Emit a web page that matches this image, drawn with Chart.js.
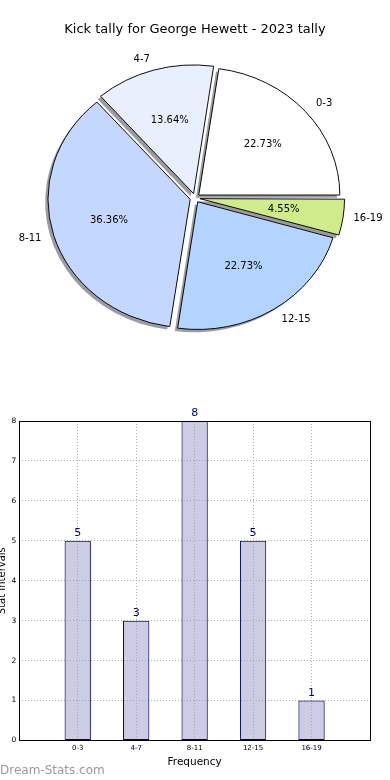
<!DOCTYPE html>
<html>
<head>
<meta charset="utf-8">
<script src="https://cdn.jsdelivr.net/npm/chart.js@4.4.1/dist/chart.umd.min.js"></script>
<style>
  body { margin: 0; width: 390px; height: 780px; overflow: hidden; background: #fff; position: relative; }
  #pieBox { position: absolute; left: 0; top: 0; width: 390px; height: 360px; }
  #barBox { position: absolute; left: -6px; top: 390px; width: 396px; height: 390px; }
  #mark { position: absolute; left: 0; top: 763px; font: 12px/14px "DejaVu Sans"; color: #999; }
</style>
</head>
<body>
<div id="pieBox"><canvas id="pieChart"></canvas></div>
<div id="barBox"><canvas id="barChart"></canvas></div>
<div id="mark">Dream-Stats.com</div>
<script>
const categories = ['0-3', '4-7', '8-11', '12-15', '16-19'];
const tally = [5, 3, 8, 5, 1];
const sliceColours = ['#ffffff', '#e9f0fd', '#c4d7fe', '#b3d4fe', '#cfeb8a'];

Chart.defaults.font.family = '"DejaVu Sans"';
Chart.defaults.color = '#000';

const total = tally.reduce((a, b) => a + b, 0);
// matplotlib goes anticlockwise from 3 o'clock, chart.js clockwise -> reverse order
const order = categories.map((c, i) => i).reverse();
const squash = 0.905; // the original pie is a bit flattened

const pieLook = {
  id: 'pieLook',
  beforeDatasetsDraw(chart) {
    const ctx = chart.ctx;
    const meta = chart.getDatasetMeta(0);
    const c = meta.data[0];
    ctx.save();
    ctx.translate(c.x, c.y);
    ctx.scale(1, squash);
    ctx.translate(-c.x, -c.y);
    // shadows
    ctx.fillStyle = 'rgba(55,55,65,0.5)';
    meta.data.forEach(el => {
      const mid = (el.startAngle + el.endAngle) / 2;
      const off = (el.options.offset || 0) / 4;
      const circ = el.endAngle - el.startAngle;
      const r = el.outerRadius + off * (1 - Math.sin(Math.min(Math.PI, circ)));
      const x = el.x + Math.cos(mid) * off - 2.8;
      const y = el.y + Math.sin(mid) * off + 2.8 / squash;
      ctx.beginPath();
      ctx.moveTo(x, y);
      ctx.arc(x, y, r, el.startAngle, el.endAngle);
      ctx.closePath();
      ctx.fill();
    });
  },
  afterDatasetsDraw(chart) {
    const ctx = chart.ctx;
    ctx.restore();
    const meta = chart.getDatasetMeta(0);
    const vals = chart.data.datasets[0].data;
    ctx.save();
    ctx.fillStyle = '#000';
    ctx.font = '10px "DejaVu Sans"';
    ctx.textBaseline = 'middle';
    meta.data.forEach((el, i) => {
      const mid = (el.startAngle + el.endAngle) / 2;
      const off = (el.options.offset || 0) / 4;
      const cx = el.x + Math.cos(mid) * off;
      const cy = el.y + Math.sin(mid) * off;
      const r = el.outerRadius;
      const at = f => [cx + Math.cos(mid) * r * f, el.y + (cy - el.y + Math.sin(mid) * r * f) * squash];
      let p = at(0.6);
      ctx.textAlign = 'center';
      ctx.fillText((vals[i] / total * 100).toFixed(2) + '%', p[0], p[1]);
      p = at(1.1);
      ctx.textAlign = Math.cos(mid) > 0 ? 'left' : 'right';
      ctx.fillText(chart.data.labels[i], p[0], p[1]);
    });
    ctx.restore();
  }
};

new Chart(document.getElementById('pieChart'), {
  type: 'pie',
  data: {
    labels: order.map(i => categories[i]),
    datasets: [{
      data: order.map(i => tally[i]),
      backgroundColor: order.map(i => sliceColours[i]),
      borderColor: '#000',
      borderWidth: 1,
      offset: 20,
      radius: 141,
      clip: false
    }]
  },
  options: {
    maintainAspectRatio: false,
    responsive: true,
    animation: false,
    events: [],
    rotation: 90,
    layout: { padding: { bottom: 11.6 } },
    plugins: {
      legend: { display: false },
      tooltip: { enabled: false },
      title: {
        display: true,
        text: 'Kick tally for George Hewett - 2023 tally',
        font: { size: 13, weight: 'normal' },
        color: '#000',
        padding: { top: 22, bottom: 10 }
      }
    }
  },
  plugins: [pieLook]
});

const barLook = {
  id: 'barLook',
  afterDatasetsDraw(chart) {
    const ctx = chart.ctx;
    const a = chart.chartArea;
    ctx.save();
    ctx.strokeStyle = '#000';
    ctx.lineWidth = 1;
    ctx.strokeRect(Math.round(a.left) + 0.5, Math.round(a.top) + 0.5, Math.round(a.right - a.left), Math.round(a.bottom - a.top));
    ctx.fillStyle = '#000080';
    ctx.font = '11px "DejaVu Sans"';
    ctx.textAlign = 'center';
    ctx.textBaseline = 'bottom';
    chart.getDatasetMeta(0).data.forEach((bar, i) => {
      ctx.fillText(tally[i], bar.x, bar.y - 2);
    });
    ctx.restore();
  }
};

new Chart(document.getElementById('barChart'), {
  type: 'bar',
  data: {
    datasets: [{
      data: tally.map((v, i) => ({ x: i, y: v })),
      backgroundColor: 'rgba(153,153,204,0.5)',
      borderColor: '#000080',
      borderWidth: 1,
      borderSkipped: false,
      barPercentage: 0.45,
      categoryPercentage: 1
    }]
  },
  options: {
    maintainAspectRatio: false,
    responsive: true,
    animation: false,
    events: [],
    layout: { padding: { top: 31, right: 20, bottom: 12.7, left: 0 } },
    plugins: { legend: { display: false }, tooltip: { enabled: false } },
    scales: {
      x: {
        type: 'linear',
        min: -1,
        max: 5,
        offset: false,
        ticks: {
          stepSize: 1,
          autoSkip: false,
          maxRotation: 0,
          padding: 4,
          font: { size: 7 },
          callback: v => categories[v] ?? ''
        },
        grid: { color: '#b0b0b0', drawTicks: false, offset: false },
        border: { display: false, dash: [1, 2] },
        title: { display: true, text: 'Frequency', font: { size: 10.5, lineHeight: 1 }, padding: { top: 0, bottom: 0 } }
      },
      y: {
        min: 0,
        max: 8,
        ticks: { stepSize: 1, padding: 3, font: { size: 7.5 } },
        grid: { color: '#b0b0b0', drawTicks: false },
        border: { display: false, dash: [1, 2] },
        title: { display: true, text: 'Stat Intervals', font: { size: 10 }, padding: { top: 2, bottom: 0.5 } }
      }
    }
  },
  plugins: [barLook]
});
</script>
</body>
</html>
